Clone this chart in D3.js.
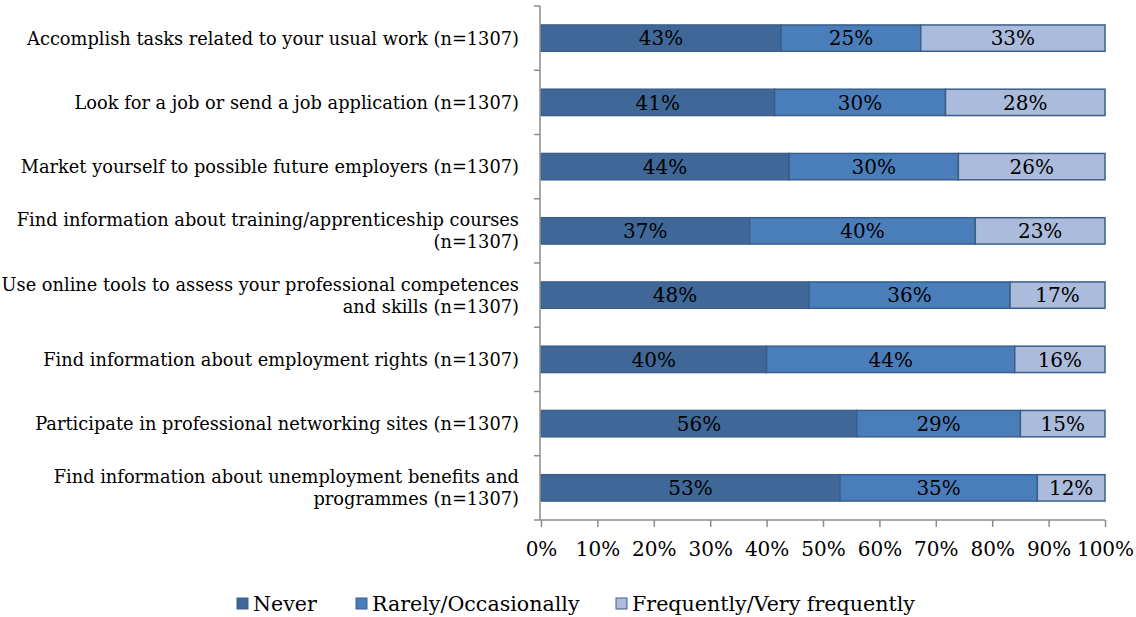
<!DOCTYPE html>
<html>
<head>
<meta charset="utf-8">
<script src="https://cdn.jsdelivr.net/npm/d3@7/dist/d3.min.js"></script>
<style>
  html, body { margin: 0; padding: 0; background: #fff; }
  svg { display: block; }
  text { font-family: "DejaVu Serif", "Liberation Serif", serif; fill: #000; }
</style>
</head>
<body>
<svg id="chart" width="1136" height="617"></svg>
<script>
// Survey items (top to bottom), each label split into its display lines
const categories = [
  ["Accomplish tasks related to your usual work (n=1307)"],
  ["Look for a job or send a job application (n=1307)"],
  ["Market yourself to possible future employers (n=1307)"],
  ["Find information about training/apprenticeship courses", "(n=1307)"],
  ["Use online tools to assess your professional competences", "and skills (n=1307)"],
  ["Find information about employment rights (n=1307)"],
  ["Participate in professional networking sites (n=1307)"],
  ["Find information about unemployment benefits and", "programmes (n=1307)"]
];
const seriesNames = ["Never", "Rarely/Occasionally", "Frequently/Very frequently"];
const never      = [43, 41, 44, 37, 48, 40, 56, 53];
const rarely     = [25, 30, 30, 40, 36, 44, 29, 35];
const frequently = [33, 28, 26, 23, 17, 16, 15, 12];
const xTicks = [0, 10, 20, 30, 40, 50, 60, 70, 80, 90, 100];

const colors = ["#3f6898", "#4a7ebb", "#aabbdb"];
const strokeColor = "#3a5f8b";

const svg = d3.select("#chart");
const margin = { left: 541, right: 31, top: 6, bottom: 97 };
const W = 1136, H = 617;

const x = d3.scaleLinear().domain([0, 100]).range([margin.left, W - margin.right]);
const y = d3.scaleBand().domain(d3.range(categories.length))
  .range([margin.top, H - margin.bottom]).paddingInner(0.59).paddingOuter(0.295);

// Rows: each stacked bar fills 100% of its share (the rounded values are scaled to their total)
const rows = categories.map((c, i) => {
  const vals = [never[i], rarely[i], frequently[i]];
  const total = d3.sum(vals);
  let acc = 0;
  return vals.map((v, k) => {
    const seg = { row: i, k, v, x0: acc / total * 100 };
    acc += v;
    seg.x1 = acc / total * 100;
    return seg;
  });
});

const bars = svg.append("g");
rows.forEach(row => {
  const g = bars.append("g");
  g.selectAll("rect").data(row).join("rect")
    .attr("x", d => x(d.x0))
    .attr("width", d => x(d.x1) - x(d.x0))
    .attr("y", d => y(d.row))
    .attr("height", y.bandwidth())
    .attr("fill", d => colors[d.k])
    .attr("stroke", strokeColor)
    .attr("stroke-width", 1.5);
  g.selectAll("text").data(row).join("text")
    .attr("x", d => (x(d.x0) + x(d.x1)) / 2)
    .attr("y", d => y(d.row) + y.bandwidth() / 2)
    .attr("dy", "0.36em")
    .attr("text-anchor", "middle")
    .style("font-size", "20px")
    .text(d => d.v + "%");
});

// Axes
const axisColor = "#8c8c8c";
const yAxisX = margin.left - 1;
const bottomY = H - margin.bottom;

// category axis with boundary ticks
const bounds = d3.range(categories.length + 1).map(i => margin.top + i * (bottomY - margin.top) / categories.length);
svg.append("line").attr("x1", yAxisX).attr("x2", yAxisX)
  .attr("y1", margin.top).attr("y2", bottomY)
  .attr("stroke", axisColor).attr("stroke-width", 1.5);
svg.append("g").selectAll("line").data(bounds).join("line")
  .attr("x1", yAxisX - 6).attr("x2", yAxisX)
  .attr("y1", d => d).attr("y2", d => d)
  .attr("stroke", axisColor).attr("stroke-width", 1.5);

// value axis
const xAxis = d3.axisBottom(x).tickValues(xTicks).tickFormat(d => d + "%").tickSize(7).tickSizeOuter(0);
const gx = svg.append("g").attr("transform", `translate(0,${bottomY})`).call(xAxis);
gx.select(".domain").attr("stroke", axisColor).attr("stroke-width", 1.5).attr("d", `M${yAxisX},0H${x(100)}`);
gx.selectAll(".tick line").attr("stroke", axisColor).attr("stroke-width", 1.5);
gx.selectAll(".tick text").attr("y", 22).attr("dy", "0.71em")
  .style("font-size", "20px").style("font-family", '"DejaVu Serif", serif').attr("fill", "#000");

// Category labels
const labelG = svg.append("g");
categories.forEach((lines, i) => {
  const cy = y(i) + y.bandwidth() / 2;
  const lh = 22;
  const t = labelG.append("text")
    .attr("text-anchor", "end")
    .style("font-size", "17.8px");
  lines.forEach((ln, j) => {
    t.append("tspan").attr("x", 519)
      .attr("y", cy + (j - (lines.length - 1) / 2) * lh)
      .attr("dy", "0.36em").text(ln);
  });
});

// Legend
const legendItems = [
  { name: seriesNames[0], x: 237 },
  { name: seriesNames[1], x: 356 },
  { name: seriesNames[2], x: 616 }
];
const lg = svg.append("g").attr("transform", "translate(0,604)");
legendItems.forEach((d, k) => {
  lg.append("rect").attr("x", d.x).attr("y", -6).attr("width", 11).attr("height", 11)
    .attr("fill", colors[k]).attr("stroke", strokeColor).attr("stroke-width", 1);
  lg.append("text").attr("x", d.x + 16).attr("y", 0).attr("dy", "0.36em")
    .style("font-size", "20.6px").text(d.name);
});
</script>
</body>
</html>
